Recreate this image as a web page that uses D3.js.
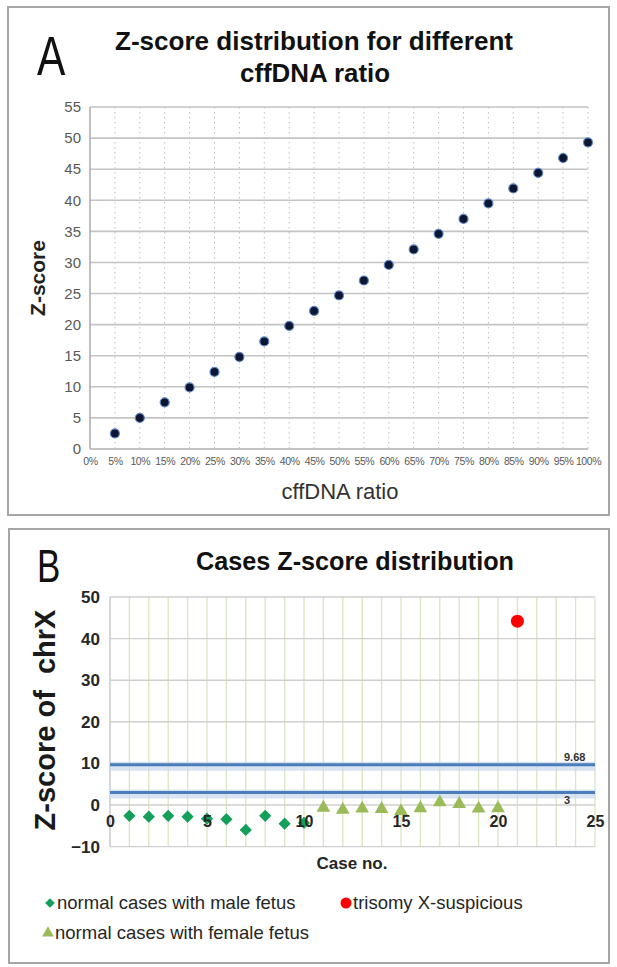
<!DOCTYPE html>
<html><head><meta charset="utf-8">
<script src="https://cdn.jsdelivr.net/npm/d3@7"></script>
<style>
html,body{margin:0;padding:0;background:#fff;}
svg{display:block;font-family:"Liberation Sans",Arial,sans-serif;}
</style></head>
<body>
<svg id="chart" width="617" height="967"></svg>
<script>
// ---------- DATA ----------
// Panel A
const ratioLabels = ["0%","5%","10%","15%","20%","25%","30%","35%","40%","45%","50%","55%","60%","65%","70%","75%","80%","85%","90%","95%","100%"];
const ratioValues = [5,10,15,20,25,30,35,40,45,50,55,60,65,70,75,80,85,90,95,100];
const zScoresA   = [2.5,5.0,7.5,9.9,12.4,14.8,17.3,19.8,22.2,24.7,27.1,29.6,32.1,34.6,37.0,39.5,41.9,44.4,46.8,49.3];
const yTicksA = [0,5,10,15,20,25,30,35,40,45,50,55];

// Panel B
const maleCases   = [1,2,3,4,5,6,7,8,9,10];
const maleZ       = [-2.6,-2.8,-2.6,-2.8,-3.3,-3.4,-6.0,-2.6,-4.5,-4.3];
const femaleCases = [11,12,13,14,15,16,17,18,19,20];
const femaleZ     = [-0.3,-0.8,-0.5,-0.6,-1.1,-0.4,1.0,0.6,-0.5,-0.4];
const trisomyCases = [21];
const trisomyZ     = [44.2];
const thresholds   = [9.68, 3];
const thresholdLabels = ["9.68","3"];
const xTicksB = [0,5,10,15,20,25];
const yTicksB = [-10,0,10,20,30,40,50];
const legendLabels = ["normal cases with male fetus","trisomy X-suspicious","normal cases with female fetus"];

// ---------- DRAW ----------
const svg = d3.select("#chart");

// frames
svg.append("rect").attr("x",8).attr("y",7).attr("width",601).attr("height",508)
  .attr("fill","#fff").attr("stroke","#a6a6a6").attr("stroke-width",2);
svg.append("rect").attr("x",9).attr("y",529).attr("width",600).attr("height",434)
  .attr("fill","#fff").attr("stroke","#a6a6a6").attr("stroke-width",2);

// ===== Panel A =====
const xA = d3.scaleLinear().domain([0,100]).range([90,588]);
const yA = d3.scaleLinear().domain([0,55]).range([449,107]);
const gA = svg.append("g");

gA.append("g").selectAll("line").data(ratioValues).join("line")
  .attr("x1",d=>xA(d)).attr("x2",d=>xA(d)).attr("y1",yA(55)).attr("y2",yA(0))
  .attr("stroke","#bdbdbd").attr("stroke-width",1).attr("stroke-dasharray","1.5,3.5");
gA.append("g").selectAll("line").data(yTicksA.filter(d=>d>0)).join("line")
  .attr("x1",xA(0)).attr("x2",xA(100)).attr("y1",d=>yA(d)).attr("y2",d=>yA(d))
  .attr("stroke","#c4c4c4").attr("stroke-width",1.6);
gA.append("line").attr("x1",xA(0)).attr("x2",xA(0)).attr("y1",yA(55)).attr("y2",yA(0))
  .attr("stroke","#b0b0b0").attr("stroke-width",1.6);
gA.append("line").attr("x1",xA(0)).attr("x2",xA(100)).attr("y1",yA(0)).attr("y2",yA(0))
  .attr("stroke","#b0b0b0").attr("stroke-width",1.6);

const axA = d3.axisLeft(yA).tickValues(yTicksA).tickSize(0).tickPadding(9);
const gyA = gA.append("g").attr("transform",`translate(${xA(0)},0)`).call(axA);
gyA.select(".domain").remove();
gyA.selectAll("text").attr("font-size",15).attr("fill","#595959").attr("font-family","Liberation Sans, Arial, sans-serif");

const axXA = d3.axisBottom(xA).tickValues([0].concat(ratioValues)).tickSize(0).tickPadding(9)
  .tickFormat((d,i)=>ratioLabels[i]);
const gxA = gA.append("g").attr("transform",`translate(0,${yA(0)})`).call(axXA);
gxA.select(".domain").remove();
gxA.selectAll("text").attr("font-size",10.5).attr("fill","#595959").attr("letter-spacing","-0.4")
  .attr("font-family","Liberation Sans, Arial, sans-serif");

gA.append("g").selectAll("circle").data(ratioValues).join("circle")
  .attr("cx",d=>xA(d)).attr("cy",(d,i)=>yA(zScoresA[i])).attr("r",4.5)
  .attr("fill","#0b1633").attr("stroke","#5f86c2").attr("stroke-width",1.2);

svg.append("text").attr("x",30).attr("y",75).attr("font-size",56).attr("fill","#111")
  .style("transform","translateX(7px) scaleX(0.76)").style("transform-origin","30px 0")
  .text("A");
svg.append("text").attr("x",314).attr("y",50).attr("text-anchor","middle")
  .attr("font-size",25).attr("font-weight","bold").attr("fill","#111")
  .attr("textLength",398).attr("lengthAdjust","spacingAndGlyphs")
  .text("Z-score distribution for different");
svg.append("text").attr("x",315).attr("y",82).attr("text-anchor","middle")
  .attr("font-size",25).attr("font-weight","bold").attr("fill","#111")
  .attr("textLength",150).attr("lengthAdjust","spacingAndGlyphs")
  .text("cffDNA ratio");
svg.append("text").attr("transform","translate(45,278) rotate(-90)").attr("text-anchor","middle")
  .attr("font-size",21).attr("font-weight","bold").attr("fill","#222").text("Z-score");
svg.append("text").attr("x",340).attr("y",499).attr("text-anchor","middle")
  .attr("font-size",22).attr("fill","#333").text("cffDNA ratio");

// ===== Panel B =====
const xB = d3.scaleLinear().domain([0,25]).range([110,595]);
const yB = d3.scaleLinear().domain([-10,50]).range([846.6,597]);
const gB = svg.append("g");

gB.append("g").selectAll("line").data(d3.range(1,26)).join("line")
  .attr("x1",d=>xB(d)).attr("x2",d=>xB(d)).attr("y1",yB(50)).attr("y2",yB(-10))
  .attr("stroke","#d8e6bf").attr("stroke-width",1.3);
gB.append("g").selectAll("line").data(yTicksB).join("line")
  .attr("x1",xB(0)).attr("x2",xB(25)).attr("y1",d=>yB(d)).attr("y2",d=>yB(d))
  .attr("stroke","#cfcfcf").attr("stroke-width",1.4);
gB.append("line").attr("x1",xB(0)).attr("x2",xB(0)).attr("y1",yB(50)).attr("y2",yB(-10))
  .attr("stroke","#c8c8c8").attr("stroke-width",1.4);

const thr = gB.append("g");
thr.selectAll("line.glow").data(thresholds).join("line").attr("class","glow")
  .attr("x1",xB(0)).attr("x2",xB(25)).attr("y1",d=>yB(d)+1.5).attr("y2",d=>yB(d)+1.5)
  .attr("stroke","#c9d8ec").attr("stroke-width",9).attr("opacity",0.7);
thr.selectAll("line.main").data(thresholds).join("line").attr("class","main")
  .attr("x1",xB(0)).attr("x2",xB(25)).attr("y1",d=>yB(d)).attr("y2",d=>yB(d))
  .attr("stroke","#4a7ebb").attr("stroke-width",3.2);
thr.selectAll("text").data(thresholds).join("text")
  .attr("x",564).attr("y",(d,i)=>i===0 ? yB(d)-4 : yB(d)+11)
  .attr("font-size",11).attr("font-weight","bold").attr("fill","#333")
  .text((d,i)=>thresholdLabels[i]);

const axB = d3.axisLeft(yB).tickValues(yTicksB).tickSize(0).tickPadding(10);
const gyB = gB.append("g").attr("transform",`translate(${xB(0)},0)`).call(axB);
gyB.select(".domain").remove();
gyB.selectAll("text").attr("font-size",17).attr("font-weight","bold").attr("fill","#262626")
  .attr("font-family","Liberation Sans, Arial, sans-serif");

const diamond = d3.symbol().type(d3.symbolDiamond2).size(95);
const triangle = d3.symbol().type(d3.symbolTriangle).size(82);
gB.append("g").selectAll("path").data(maleCases).join("path")
  .attr("d",diamond).attr("transform",(d,i)=>`translate(${xB(d)},${yB(maleZ[i])})`)
  .attr("fill","#13a05a");
gB.append("g").selectAll("path").data(femaleCases).join("path")
  .attr("d",triangle).attr("transform",(d,i)=>`translate(${xB(d)},${yB(femaleZ[i])+1.5})`)
  .attr("fill","#9bbb59");
gB.append("g").selectAll("circle").data(trisomyCases).join("circle")
  .attr("cx",d=>xB(d)).attr("cy",(d,i)=>yB(trisomyZ[i])).attr("r",6.5)
  .attr("fill","#ff0000");

const axXB = d3.axisBottom(xB).tickValues(xTicksB).tickSize(0).tickPadding(11);
const gxB = gB.append("g").attr("transform",`translate(0,${yB(0)})`).call(axXB);
gxB.select(".domain").remove();
gxB.selectAll("text").attr("font-size",16).attr("font-weight","bold").attr("fill","#262626")
  .attr("font-family","Liberation Sans, Arial, sans-serif");

svg.append("text").attr("x",30).attr("y",582).attr("font-size",46).attr("fill","#111")
  .style("transform","translateX(7px) scaleX(0.76)").style("transform-origin","30px 0")
  .text("B");
svg.append("text").attr("x",355).attr("y",570).attr("text-anchor","middle")
  .attr("font-size",25).attr("font-weight","bold").attr("fill","#111")
  .attr("textLength",318).attr("lengthAdjust","spacingAndGlyphs")
  .text("Cases Z-score distribution");
svg.append("text").attr("transform","translate(55,720) rotate(-90)").attr("text-anchor","middle")
  .attr("font-size",29).attr("font-weight","bold").attr("fill","#1a1a1a")
  .style("white-space","pre").text("Z-score of  chrX");
svg.append("text").attr("x",352).attr("y",869).attr("text-anchor","middle")
  .attr("font-size",17).attr("font-weight","bold").attr("fill","#262626").text("Case no.");

const legend = svg.append("g");
const legendItems = [
  {x:50, y:903, sym:"diamond", color:"#13a05a", label:legendLabels[0]},
  {x:346, y:903, sym:"circle", color:"#ff0000", label:legendLabels[1]},
  {x:48, y:933, sym:"triangle", color:"#9bbb59", label:legendLabels[2]}
];
legendItems.forEach(it=>{
  if(it.sym==="circle"){
    legend.append("circle").attr("cx",it.x).attr("cy",it.y).attr("r",5.5).attr("fill",it.color);
  } else {
    const s = it.sym==="diamond" ? d3.symbol().type(d3.symbolDiamond2).size(60)
                                 : d3.symbol().type(d3.symbolTriangle).size(60);
    legend.append("path").attr("d",s).attr("transform",`translate(${it.x},${it.y})`).attr("fill",it.color);
  }
  legend.append("text").attr("x",it.x+7).attr("y",it.y).attr("dy","0.35em")
    .attr("font-size",18.5).attr("fill","#262626").text(it.label);
});
</script>
</body></html>
